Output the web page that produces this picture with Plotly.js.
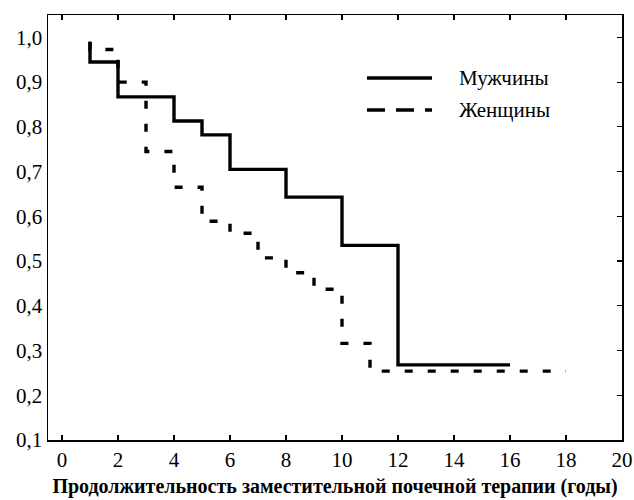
<!DOCTYPE html>
<html><head><meta charset="utf-8">
<script src="https://cdn.plot.ly/plotly-3.0.1.min.js"></script>
<style>body{margin:0;background:#fff}#c{width:634px;height:500px}</style>
</head><body><div id="c"></div>
<script>
const menX = [1, 1, 2, 2, 4, 4, 5, 5, 6, 6, 8, 8, 10, 10, 12, 12, 16];
const menY = [0.99, 0.945, 0.945, 0.867, 0.867, 0.813, 0.813, 0.782, 0.782, 0.705, 0.705, 0.643, 0.643, 0.535, 0.535, 0.268, 0.268];
const womenX = [1, 1, 2, 2, 3, 3, 4, 4, 5, 5, 6, 6, 7, 7, 8, 8, 9, 9, 10, 10, 11, 11, 18];
const womenY = [0.99, 0.973, 0.973, 0.90, 0.90, 0.745, 0.745, 0.665, 0.665, 0.589, 0.589, 0.562, 0.562, 0.507, 0.507, 0.474, 0.474, 0.437, 0.437, 0.316, 0.316, 0.254, 0.254];
const seriesNames = ['Мужчины', 'Женщины'];
const xTicks = [0, 2, 4, 6, 8, 10, 12, 14, 16, 18, 20];
const yTicks = [0.1, 0.2, 0.3, 0.4, 0.5, 0.6, 0.7, 0.8, 0.9, 1.0];

const font = 'Liberation Serif';
const traces = [
  {x: menX, y: menY, mode: 'lines', name: seriesNames[0], line: {color: '#000', width: 3.4}},
  {x: womenX, y: womenY, mode: 'lines', name: seriesNames[1], line: {color: '#000', width: 3.4, dash: '8px,15px'}}
];
const layout = {
  width: 634, height: 500,
  margin: {l: 48, r: 12, t: 15, b: 60},
  paper_bgcolor: '#fff', plot_bgcolor: '#fff',
  showlegend: false,
  font: {family: font, size: 21, color: '#000'},
  xaxis: {
    range: [-0.5, 20], tickvals: xTicks, ticktext: xTicks.map(String),
    ticks: 'inside', ticklen: 5, tickwidth: 1.2, tickcolor: '#000',
    showline: true, linecolor: '#000', linewidth: 1.5, mirror: 'ticks',
    showgrid: false, zeroline: false,
    tickfont: {family: font, size: 21},
    title: {text: '<b>Продолжительность заместительной почечной терапии (годы)</b>', font: {family: font, size: 20}, standoff: 8}
  },
  yaxis: {
    range: [0.1, 1.05], tickvals: yTicks, ticktext: yTicks.map(v => v.toFixed(1).replace('.', ',')),
    tickfont: {family: font, size: 21},
    ticks: '', showline: true, linecolor: '#000', linewidth: 1.5, mirror: true,
    showgrid: false, zeroline: false
  },
  yaxis2: {
    range: [0.1, 1.05], overlaying: 'y', side: 'right', tickvals: yTicks,
    ticks: 'inside', ticklen: 5, tickwidth: 1.2, tickcolor: '#000',
    showticklabels: false, showline: false, showgrid: false, zeroline: false
  },
  shapes: [
    {type: 'line', xref: 'paper', yref: 'paper', x0: 0.5557, x1: 0.669, y0: 0.8518, y1: 0.8518, line: {color: '#000', width: 3.4}},
    {type: 'line', xref: 'paper', yref: 'paper', x0: 0.5557, x1: 0.669, y0: 0.7765, y1: 0.7765, line: {color: '#000', width: 3.4, dash: '18px,11px'}}
  ],
  annotations: [
    {xref: 'paper', yref: 'paper', x: 0.712, y: 0.8518, xanchor: 'left', yanchor: 'middle', text: seriesNames[0], showarrow: false, font: {family: font, size: 21}},
    {xref: 'paper', yref: 'paper', x: 0.712, y: 0.7765, xanchor: 'left', yanchor: 'middle', text: seriesNames[1], showarrow: false, font: {family: font, size: 21}}
  ]
};
traces.push({x: [], y: [], yaxis: 'y2', showlegend: false, hoverinfo: 'skip'});
Plotly.newPlot('c', traces, layout, {displayModeBar: false, staticPlot: true});
</script></body></html>
